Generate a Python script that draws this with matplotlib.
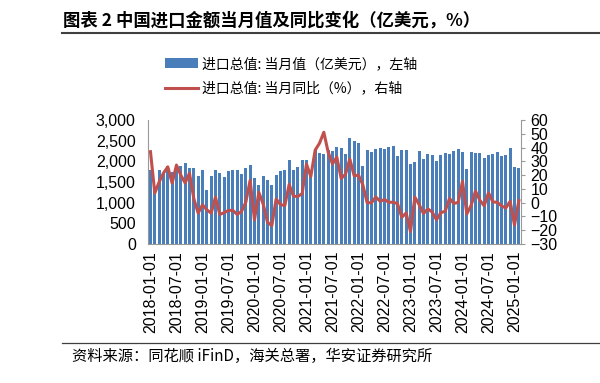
import matplotlib
matplotlib.use('Agg')
import matplotlib.pyplot as plt
from matplotlib.lines import Line2D
from matplotlib.ticker import FuncFormatter
import numpy as np
import pandas as pd

plt.rcParams['font.family'] = ['Liberation Sans', 'Noto Sans CJK SC', 'DejaVu Sans']

months = pd.date_range('2018-01-01', '2025-02-01', freq='MS')

# 进口总值: 当月值 (亿美元)
import_value = [
    1801, 1378, 1791, 1713, 1878, 1752, 1875, 1894, 1949, 1830, 1827, 1641,  # 2018
    1782, 1311, 1652, 1796, 1719, 1618, 1764, 1800, 1785, 1701, 1830, 1902,  # 2019
    1590, 1420, 1653, 1546, 1436, 1669, 1757, 1780, 2028, 1790, 1874, 2040,  # 2020
    2035, 1690, 2302, 2211, 2181, 2271, 2247, 2358, 2332, 2170, 2553, 2500,  # 2021
    2444, 1895, 2281, 2223, 2296, 2316, 2300, 2356, 2371, 2129, 2264, 2282,  # 2022
    1928, 1976, 2255, 2048, 2168, 2150, 2016, 2165, 2200, 2185, 2250, 2298,  # 2023
    2234, 1815, 2218, 2210, 2210, 2089, 2153, 2170, 2218, 2129, 2145, 2315,  # 2024
    1870, 1840,                                                              # 2025
]

# 进口总值: 当月同比 (%)
import_yoy = [
    37.0, 7.0, 15.0, 21.5, 26.0, 14.1, 27.3, 20.0, 14.3, 21.4, 3.0, -7.6,
    -1.5, -5.2, -7.6, 4.0, -8.5, -7.3, -5.6, -5.6, -8.5, -6.4, 0.3, 16.3,
    -12.5, 7.5, -0.9, -14.2, -16.7, 2.7, -1.4, -2.1, 13.2, 4.7, 4.5, 6.5,
    28.0, 19.0, 38.1, 43.1, 51.1, 36.7, 28.1, 33.1, 17.6, 20.6, 31.7, 19.5,
    20.0, 13.0, -0.1, 0.0, 4.1, 1.0, 2.3, 0.3, 0.3, -0.7, -10.6, -7.5,
    -21.0, 4.0, -1.4, -7.9, -4.5, -6.8, -12.4, -7.3, -6.2, 3.0, -0.6, 0.2,
    15.5, -8.2, -1.9, 8.4, 1.8, -2.3, 7.2, 0.5, 0.3, -2.3, -3.9, 1.0,
    -16.3, 1.5,
]

cjk = ['Noto Sans CJK SC', 'DejaVu Sans']

fig = plt.figure(figsize=(6, 3.83), dpi=100)
ax = fig.add_axes([148.3 / 600, 1 - 244 / 383, (521 - 148.3) / 600, 124 / 383])

x = np.arange(len(months))
ax.bar(x, import_value, width=0.68, color='#4a7ebb', zorder=2,
       label='进口总值: 当月值（亿美元），左轴')
ax.set_xlim(-0.5, len(months) - 0.5)
ax.set_ylim(0, 3000)
ax.set_yticks(range(0, 3001, 500))
ax.yaxis.set_major_formatter(FuncFormatter(lambda v, p: f'{v:,.0f}'))
ax.set_xticks(x[::6])
ax.set_xticklabels([m.strftime('%Y-%m-%d') for m in months[::6]], rotation=90)
ax.tick_params(axis='y', length=0, pad=9, labelsize=11.5)
ax.tick_params(axis='x', length=0, pad=5, labelsize=11.5)

ax2 = ax.twinx()
ax2.plot(x, import_yoy, color='#c0504d', lw=2.2, zorder=3,
         label='进口总值: 当月同比（%），右轴')
ax2.set_ylim(-30, 60)
ax2.set_yticks(range(-30, 61, 10))
ax2.tick_params(axis='y', length=3, width=0.8, color='#999999', pad=4, labelsize=11.5)

for a in (ax, ax2):
    a.spines['top'].set_visible(False)
    for s in ('left', 'right', 'bottom'):
        a.spines[s].set_color('#999999')
        a.spines[s].set_linewidth(0.8)
ax.spines['right'].set_visible(False)
ax2.spines['left'].set_visible(False)
ax2.spines['bottom'].set_visible(False)

h1, l1 = ax.get_legend_handles_labels()
h2, l2 = ax2.get_legend_handles_labels()
fig.legend(h1 + h2, l1 + l2, loc='upper left', bbox_to_anchor=(158 / 600, 1 - 50 / 383),
           frameon=False, borderpad=0, handlelength=2.4, handletextpad=0.3,
           labelspacing=0.75, prop={'family': cjk, 'size': 10})

# title and source
fig.text(63 / 600, 1 - 21 / 383, '图表 2 中国进口金额当月值及同比变化（亿美元，%）',
         family=cjk, fontsize=12.5, fontweight='bold', va='center', ha='left')
fig.add_artist(Line2D([62 / 600, 1], [1 - 33 / 383] * 2, color='#404040', lw=1.5))
fig.add_artist(Line2D([62 / 600, 1], [1 - 343 / 383] * 2, color='#404040', lw=0.9))
fig.text(72 / 600, 1 - 356 / 383, '资料来源：同花顺 iFinD，海关总署，华安证券研究所',
         family=cjk, fontsize=11, va='center', ha='left')

fig.savefig('out.png', dpi=100)
